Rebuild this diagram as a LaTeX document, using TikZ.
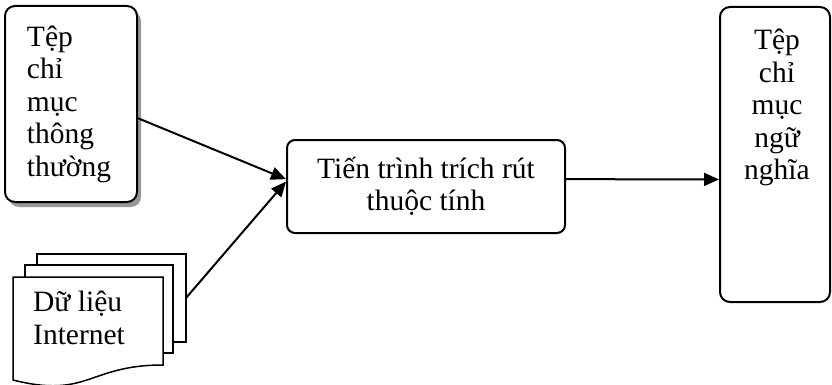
\documentclass[tikz,border=0pt]{standalone}
\usepackage{fontspec}
\setmainfont{Liberation Serif}
\usetikzlibrary{arrows.meta,shadows}
\begin{document}
\begin{tikzpicture}[x=1pt,y=-1pt,
  box/.style={draw=black,line width=2pt,rounded corners=10pt,fill=white,inner sep=0pt},
  txt/.style={font=\fontsize{29.5}{32.5}\selectfont},
  conn/.style={line width=2pt,-{Triangle[length=15pt,width=13pt]}},
  page/.style={draw=black,line width=1.5pt,fill=white}]
\useasboundingbox (0,0) rectangle (832,385);
\node[box, txt, drop shadow={shadow xshift=4pt,shadow yshift=-5pt,fill=gray!80,opacity=1},
  minimum width=132pt, minimum height=196pt, text width=88pt, inner xsep=22pt, align=left]
  (lbox) at (71,104) {Tệp\\chỉ\\mục\\thông\\thường};
\node[box, txt, rounded corners=8pt, minimum width=278pt, minimum height=93pt, align=center]
  (proc) at (426,186.5) {Tiến trình trích rút\\thuộc tính};
\node[box, minimum width=110pt, minimum height=295pt] (rbox) at (775,154.5) {};
\node[txt, align=center, anchor=north, inner sep=0pt] (rtxt) at (777,29) {Tệp\\chỉ\\mục\\ngữ\\nghĩa};
\draw[page] (37,254) rectangle (186,342);
\draw[page] (25,265) rectangle (173,353);
\draw[page] (163,277) -- (163,365) .. controls (88,365) and (88,399) .. (13,380) -- (13,277) -- cycle;
\node[txt, align=left, anchor=north west, inner sep=0pt] (doc) at (33,291) {Dữ liệu\\Internet};
\coordinate (docR) at (186,298);
\draw[conn] (lbox.-12) -- (proc.177);
\draw[conn] (docR) -- (proc.178.5);
\draw[conn] (proc.3.5) -- (rbox.-156);
\end{tikzpicture}
\end{document}
